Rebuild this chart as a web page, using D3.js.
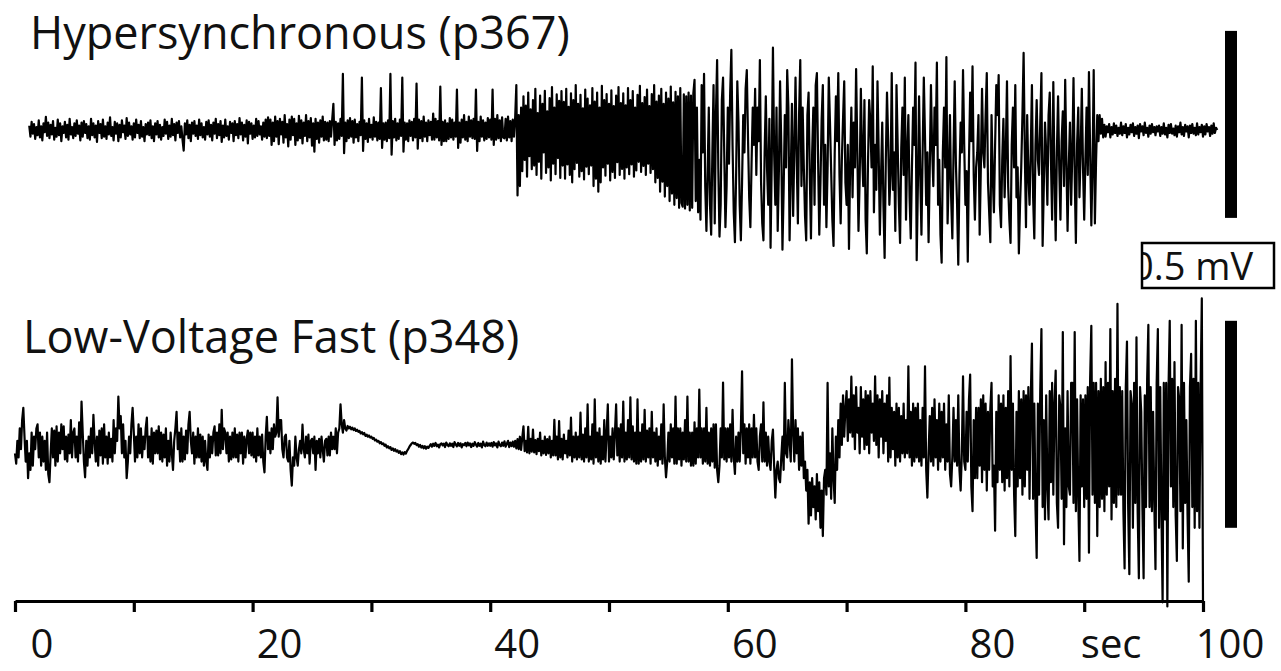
<!DOCTYPE html>
<html>
<head>
<meta charset="utf-8">
<script src="https://cdn.jsdelivr.net/npm/d3@7"></script>
<style>
  html, body { margin: 0; padding: 0; background: #fff; }
  svg { display: block; }
</style>
</head>
<body>
<svg id="chart" width="1281" height="671"></svg>
<script>
// Two EEG seizure recordings, sampled every 0.1 s, amplitudes in µV.
// Each row of the arrays below holds 5 s of signal.
const sampleStep = 0.1;

// Hypersynchronous onset (p367), first sample at 1.2 s
const hyperStart = 1.2;
const hyperTrace = [
  12,-18,22,-10,16,-24,8,-14,26,-20,10,-28,18,-6,35,-16,20,-22,14,-12,24,-26,6,-18,28,-14,18,-30,10,-8,22,-20,14,-26,30,-12,8,-22,18,-16,26,-10,12,-28,20,-18,24,-8,16,-22,
  10,-26,30,-14,18,-20,12,-32,24,-8,16,-22,28,-18,10,-24,20,-12,34,-16,8,-28,22,-10,18,-30,14,-20,26,-6,12,-24,32,-16,20,-12,10,-26,18,-20,28,-8,14,-22,24,-18,8,-30,16,-12,
  20,-14,26,-22,10,-30,18,-12,24,-20,14,-26,8,-16,28,-10,22,-24,12,-18,30,-14,16,-28,20,-8,24,-20,10,-26,-55,18,-12,26,-22,14,-30,20,-10,24,-16,12,-24,28,-14,18,-20,8,-26,22,
  -12,26,-18,14,-28,20,-10,30,-22,16,-14,24,-32,12,-20,28,-16,10,-26,22,-8,18,-30,24,-14,16,-22,32,-12,20,-28,14,-18,26,-36,22,-10,18,-24,12,-20,30,-16,24,-12,10,-26,20,-18,28,
  -22,34,-16,28,-40,20,-30,36,-18,24,-38,30,-12,22,-34,40,-20,16,-44,28,-26,36,-14,30,-40,18,-28,38,-22,26,-36,20,-16,40,-30,24,-20,32,-42,18,-58,30,-24,20,-34,26,-18,36,-28,22,
  -26,20,-30,24,-18,28,70,-40,22,-28,18,-24,30,-16,150,-62,20,-30,26,-22,32,-18,24,-34,28,-20,16,-30,22,-14,140,-56,26,-24,18,-32,30,-20,14,-26,34,-18,22,-28,20,-24,112,-48,18,-26,
  20,-30,26,-22,150,-66,24,-20,30,-28,18,-24,28,-16,140,-58,20,-26,18,-30,26,-16,22,-28,30,-20,124,-50,28,-22,24,-30,36,-18,20,-30,26,-14,22,-26,44,-26,30,-20,24,-28,116,-40,22,-30,
  26,-30,18,-24,32,-20,28,-26,20,-18,108,-48,20,-34,28,-20,40,-26,22,-30,36,-18,26,-22,30,-24,108,-56,22,-30,36,-18,26,-28,20,-24,32,-20,28,-26,108,-40,30,-26,40,-22,26,-30,34,-20,
  -22,30,-28,36,-20,24,-30,28,-18,32,120,-175,40,-150,60,-110,90,-80,65,-125,100,-70,55,-105,80,-95,110,-120,45,-85,92,-130,70,-60,105,-115,50,-100,85,-135,115,-90,60,-118,95,-75,78,-128,104,-95,
  75,-130,110,-92,62,-120,98,-140,80,-105,120,-88,70,-125,94,-110,58,-132,108,-98,84,-118,66,-95,112,-150,76,-130,100,-165,60,-140,118,-100,80,-122,96,-90,70,-135,106,-112,64,-128,92,-86,115,-120,72,-104,
  98,-130,66,-100,112,-118,80,-92,104,-125,60,-108,94,-85,118,-112,72,-96,88,-120,108,-90,64,-115,96,-105,120,-140,76,-128,92,-165,110,-138,70,-178,100,-150,84,-190,116,-170,74,-200,102,-182,90,-208,112,-195,
  -205,95,-210,90,-200,100,-215,92,-208,98,134,-190,60,-220,-80,-240,120,-60,150,-150,-270,-120,60,-200,-280,-60,120,-250,40,187,-100,-285,-200,80,140,-60,-260,-150,60,-90,100,214,-40,-220,-300,-120,130,20,-200,-295,
  -140,40,-60,110,160,-20,-180,-260,-90,60,-40,110,-120,60,-30,187,-140,-250,-295,-60,90,-100,-200,30,-315,-80,220,-60,-200,60,-270,-110,130,-40,-320,-160,40,-100,160,60,-295,-120,70,-230,-50,140,-80,-250,40,187,
  -150,60,-100,-230,-295,40,100,-120,-290,-60,60,-200,120,152,-80,-280,-140,30,120,-200,-40,-260,-100,140,20,-110,-240,-310,-60,90,-30,152,-120,-250,-80,30,130,-140,-200,-40,-318,-90,60,-180,20,-100,163,-50,-270,-130,
  110,-60,-150,80,-240,-330,-90,80,20,-100,170,-220,-40,-160,130,-60,-280,-120,20,-200,-342,-80,100,-30,-200,-120,152,-160,-60,-270,120,-40,-200,-302,-50,60,-120,140,-240,-60,40,-180,-290,-100,60,-40,180,-348,-150,90,
  -120,-280,-60,140,-20,-200,-60,-300,-100,120,-50,-150,60,-40,180,-200,-80,-280,-355,-60,60,-100,195,-250,-120,40,-180,-290,-60,130,-90,-200,-360,-120,20,-60,160,-40,-200,-110,-352,-80,100,-30,170,-120,-240,-100,-60,40,
  -280,-100,110,-60,-100,40,152,-140,-220,-300,40,-120,-220,-40,120,40,147,-200,-260,-80,30,-180,-60,130,-150,-240,-302,-40,60,-100,120,-180,-100,-330,-200,-100,40,206,-60,-260,40,-120,-200,-60,120,-180,-290,-40,80,-80,
  -120,20,152,-310,-150,20,-60,-200,40,100,-80,-240,128,-120,-295,-60,90,-100,-240,-30,50,-150,134,-80,-270,-100,20,-200,-60,139,-120,-302,-40,60,-180,-60,110,-100,-240,-80,60,-120,155,-60,-255,-100,160,-250,-80,40,
  -30,40,-10,30,-20,14,-18,10,-6,16,-20,8,-12,18,-8,12,-16,6,-10,20,-14,10,-8,16,-20,6,-12,14,-6,18,-16,8,-10,12,-22,16,-4,10,-14,20,-8,6,-18,12,-10,16,-6,8,-14,10,
  -4,12,-16,8,-10,18,-12,6,-20,14,-8,16,-10,4,-14,12,-18,10,-6,20,-12,8,-16,14,-4,10,-20,12,-8,16,-10,6,-14,18,-12,8,-6,14,-18,10,-12,16,-4,8,-16,12,-10,18,-8,6,
  0
];

// Low-voltage fast onset (p348), first sample at 0 s
const lvfStart = 0;
const lvfTrace = [
  -20,-45,10,-30,40,-10,60,90,20,-40,10,-80,-20,-60,30,-50,20,-10,40,50,-30,30,-50,20,-40,10,-60,30,-70,-90,-20,40,-30,35,-50,45,-40,30,-20,50,-10,45,-35,20,-40,25,-20,60,-30,30,
  40,-30,20,-40,55,-20,105,30,-40,-78,10,-50,20,-30,40,-20,73,10,-40,20,-50,35,-25,40,-45,50,-30,20,-45,30,-30,15,-40,60,-20,40,10,117,40,70,-20,50,-30,10,-80,-40,20,-20,50,90,
  30,-40,20,-30,50,-20,40,-30,20,-10,40,66,-30,20,-40,40,-45,30,-20,35,-20,45,-35,30,-40,25,-30,40,-50,10,-40,30,-20,-60,10,40,80,-10,30,-40,40,-40,20,-35,35,-20,50,80,10,-20,
  30,-45,20,-30,40,-30,25,-40,20,-50,10,-40,-60,25,-30,20,-20,30,45,-25,30,-25,50,-20,85,-10,40,30,-20,30,-40,20,-35,30,-30,40,-30,25,-40,30,-20,30,-45,20,-30,15,35,-20,30,-25,
  30,-30,20,-40,40,-25,20,-30,25,-40,-66,20,68,-10,30,-20,40,-10,50,20,30,115,20,60,60,-10,-30,20,25,-30,-40,10,-60,-98,-30,-50,20,-30,-50,-10,10,-20,49,-10,-30,20,-20,25,-45,10,
  15,-20,20,-60,10,-20,15,-30,20,-10,-40,10,15,-25,20,-25,30,-10,20,-10,40,-20,30,40,98,50,30,60,40,35,46,40,44,38,42,36,40,34,37,32,34,28,31,26,29,22,25,20,23,18,
  20,15,17,11,13,8,10,4,7,2,4,-2,1,-6,-3,-8,-5,-12,-8,-14,-10,-16,-13,-19,-15,-22,-18,-23,-17,-21,-14,-10,-4,0,4,6,3,5,0,2,-4,0,-6,-2,-8,-3,-9,-4,-7,-2,
  2,-4,3,-2,5,-3,1,-6,2,4,-1,3,-5,6,0,-3,4,-2,3,-5,7,1,-3,5,-2,4,-6,2,0,5,-3,6,-1,4,-5,3,-2,7,1,-4,5,-2,3,-6,8,0,-3,6,-2,4,
  -2,5,-4,7,-1,4,-6,8,0,-3,6,-2,9,-4,3,10,-5,6,-3,8,-4,10,-8,14,-10,20,-12,18,45,-15,10,-18,44,-20,15,-16,37,-18,12,-22,15,-15,30,-25,10,-20,20,-24,14,-20,
  20,-30,10,-25,61,-25,20,-35,58,-30,15,-35,25,-20,10,-30,35,-25,66,-40,20,-30,30,-35,20,-30,78,-35,25,-40,40,-30,98,-40,20,-35,50,-45,110,-30,30,-40,40,-45,20,-35,60,-40,30,98,
  -40,20,-30,40,-35,30,98,-25,40,-40,50,-30,105,-40,30,-35,60,-30,115,-35,45,-40,30,-45,110,-45,30,-40,50,-35,85,-40,35,-30,40,-45,80,-30,30,-40,40,-50,20,-35,50,-45,98,-30,-78,-40,
  30,-40,50,-30,40,-45,117,-45,40,-35,40,-50,30,-35,60,-40,117,-40,30,-50,30,-50,55,-45,40,-30,134,-30,40,-45,40,-40,90,-45,30,-50,40,-40,50,-55,50,-60,-90,-50,40,-30,151,-35,40,-40,
  40,-30,50,-40,85,-30,-70,20,-40,30,-40,40,178,-20,50,-45,40,-30,50,-45,40,-30,73,-30,40,-40,-60,20,50,-40,103,-40,30,-50,20,-40,-60,10,37,-50,-127,-60,-40,-80,-90,-30,20,-60,150,-20,
  -30,60,10,-40,207,30,-40,60,-20,40,-60,20,-50,30,-80,-40,-110,-60,-190,-90,-170,-80,-150,-100,-180,-70,-160,-90,-200,-110,-220,-80,-60,-120,150,-100,-20,-130,40,-80,-140,20,-60,60,-30,100,0,120,20,90,
  130,10,110,30,165,20,120,-10,140,30,90,-20,140,20,110,-10,130,0,120,-20,130,30,100,10,166,0,120,-30,110,20,130,-20,100,10,120,-40,163,-30,90,-10,80,-50,100,-30,90,-40,70,-20,100,-30,
  60,-20,190,-30,80,-50,100,-40,90,-30,100,-40,60,-50,90,-30,190,-60,-127,-20,70,-40,90,-50,110,-30,60,-60,100,-40,80,-30,100,-60,50,-40,120,-70,-100,-30,90,-40,60,-50,120,-60,-110,-20,166,-40,
  -60,80,-40,110,170,-100,-160,60,-80,90,-80,90,-50,110,-90,120,-60,100,-110,80,-60,90,150,-100,-50,-207,80,-90,120,-60,100,-90,120,-110,90,-80,130,-100,215,-60,100,-120,-220,80,-100,130,-80,110,-120,130,
  -100,120,-60,140,-130,110,245,-130,100,-150,-273,100,-120,130,280,-150,60,-180,120,-100,-180,130,-90,150,-120,100,180,-140,-200,120,90,-130,273,-240,40,-150,130,-100,-120,150,150,-140,273,-160,110,-130,-280,120,-100,110,
  -150,120,-130,140,-260,160,288,-120,150,-140,150,-220,130,-150,160,-130,140,-160,200,-120,150,-100,280,-180,130,-140,160,-150,341,-120,140,-120,130,-160,-298,140,250,-150,-312,130,100,-200,150,-140,260,-160,-322,140,80,-150,
  -322,120,-150,160,290,-150,140,-160,80,-140,-300,150,280,-200,140,-160,-380,150,-180,150,-390,140,300,-100,160,-150,200,-170,-280,140,110,-160,290,-250,150,-140,60,-170,-330,140,220,-150,160,-200,300,-160,150,-200,140,354,
  -380
];

// Time axis
const axisTicks = [0, 10, 20, 30, 40, 50, 60, 70, 80, 90, 100];
const labelValues = [0, 20, 40, 60, 80, 90, 100];
const labelTexts = ["0", "20", "40", "60", "80", "sec", "100"];

const titles = ["Hypersynchronous (p367)", "Low-Voltage Fast (p348)"];

// Calibration bars: 0.5 mV each, lower end in µV for each trace
const calibrationUV = 500;
const calibrationLabel = "0.5 mV";
const hyperBarLow = -235;
const lvfBarLow = -200;

// ---------------------------------------------------------------
const svg = d3.select("#chart");
const font = "'Open Sans', 'Noto Sans', sans-serif";

const x = d3.scaleLinear().domain([0, 100]).range([15, 1203]);
const yHyper = d3.scaleLinear().domain([0, calibrationUV]).range([130, 130 - 187]);
const yLvf = d3.scaleLinear().domain([0, calibrationUV]).range([445, 445 - 207]);

function drawTrace(values, start, y) {
  const line = d3.line()
    .x((d, i) => x(start + i * sampleStep))
    .y(d => y(d));
  svg.append("path")
    .datum(values)
    .attr("d", line)
    .attr("fill", "none")
    .attr("stroke", "#000")
    .attr("stroke-width", 2.2)
    .attr("stroke-linejoin", "round");
}

drawTrace(hyperTrace, hyperStart, yHyper);
drawTrace(lvfTrace, lvfStart, yLvf);

// Titles
svg.append("text")
  .attr("x", 30).attr("y", 49)
  .attr("font-family", font).attr("font-size", 45)
  .attr("fill", "#111")
  .text(titles[0]);
svg.append("text")
  .attr("x", 23).attr("y", 353)
  .attr("font-family", font).attr("font-size", 45)
  .attr("fill", "#111")
  .text(titles[1]);

// Calibration bars
function drawBar(y, low) {
  svg.append("rect")
    .attr("x", 1225).attr("width", 12)
    .attr("y", y(low + calibrationUV))
    .attr("height", y(low) - y(low + calibrationUV))
    .attr("fill", "#000");
}
drawBar(yHyper, hyperBarLow);
drawBar(yLvf, lvfBarLow);

// Calibration label box (text clipped by the frame)
const box = { x: 1142, y: 243, w: 132, h: 45 };
svg.append("clipPath").attr("id", "boxClip")
  .append("rect")
  .attr("x", box.x).attr("y", box.y)
  .attr("width", box.w).attr("height", box.h);
svg.append("text")
  .attr("x", box.x - 10).attr("y", box.y + 37)
  .attr("font-family", font).attr("font-size", 38)
  .attr("fill", "#111")
  .attr("clip-path", "url(#boxClip)")
  .text(calibrationLabel);
svg.append("rect")
  .attr("x", box.x).attr("y", box.y)
  .attr("width", box.w).attr("height", box.h)
  .attr("fill", "none").attr("stroke", "#000").attr("stroke-width", 2.5);

// Time axis
const axisG = svg.append("g")
  .attr("transform", "translate(0,601)")
  .call(d3.axisBottom(x).tickValues(axisTicks).tickSize(11).tickSizeOuter(0).tickFormat(""));
axisG.select(".domain").attr("stroke", "#000").attr("stroke-width", 3.2);
axisG.selectAll(".tick line").attr("stroke", "#000").attr("stroke-width", 3.2);

svg.append("g").selectAll("text")
  .data(labelValues)
  .join("text")
  .attr("x", d => x(d) + 27)
  .attr("y", 658)
  .attr("text-anchor", "middle")
  .attr("font-family", font).attr("font-size", 40)
  .attr("fill", "#111")
  .text((d, i) => labelTexts[i]);
</script>
</body>
</html>
